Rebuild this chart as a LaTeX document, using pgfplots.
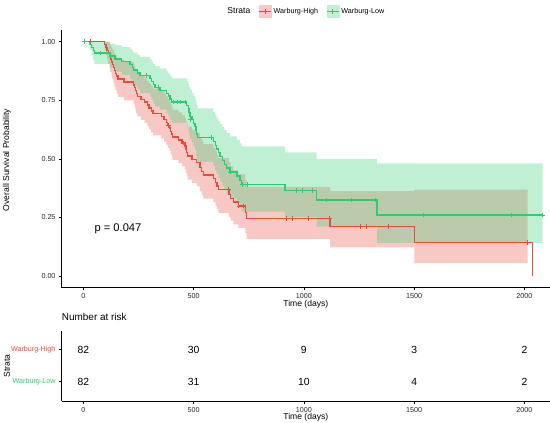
\documentclass[border=0pt]{standalone}
\usepackage{pgfplots}
\pgfplotsset{compat=1.18}
\usepackage{pgfplotstable}
\usepackage{fontspec}
\setmainfont{Liberation Sans}
\definecolor{redc}{HTML}{E74C3C}
\definecolor{greenc}{HTML}{2ECC71}

% Warburg-High: survival line
\pgfplotstableread{
t S
0 1.000
97 0.988
103 0.976
108 0.963
113 0.951
118 0.939
122 0.926
127 0.914
131 0.902
136 0.890
141 0.877
145 0.865
151 0.853
157 0.841
185 0.828
228 0.816
233 0.804
236 0.791
240 0.779
245 0.767
262 0.754
278 0.742
290 0.730
298 0.717
308 0.705
316 0.693
354 0.680
366 0.668
376 0.656
383 0.643
390 0.631
396 0.618
401 0.606
405 0.593
431 0.580
448 0.567
461 0.554
465 0.540
469 0.526
473 0.512
492 0.498
514 0.484
529 0.462
537 0.447
544 0.431
590 0.415
600 0.399
606 0.384
612 0.368
660 0.349
668 0.332
680 0.315
703 0.298
735 0.272
741 0.245
1119 0.210
1501 0.142
2036 0.000
}\redline

% Warburg-High: confidence band as a closed step polygon
% (upper limit forward, then lower limit backward)
\pgfplotstableread{
t y
0 1.000
97 1.000
103 1.000
108 1.000
113 0.999
118 0.992
122 0.984
127 0.977
131 0.969
136 0.960
141 0.951
145 0.942
151 0.933
157 0.924
185 0.914
228 0.904
233 0.895
236 0.884
240 0.874
245 0.864
262 0.853
278 0.843
290 0.833
298 0.822
308 0.811
316 0.800
354 0.789
366 0.778
376 0.767
383 0.756
390 0.745
396 0.733
401 0.722
405 0.710
431 0.698
448 0.687
461 0.675
465 0.663
469 0.650
473 0.638
492 0.625
514 0.612
529 0.592
537 0.578
544 0.563
590 0.548
600 0.533
606 0.518
612 0.503
660 0.485
668 0.468
680 0.451
703 0.434
735 0.408
741 0.380
1119 0.362
1501 0.369
2015 0.369
2015 0.055
1501 0.122
1119 0.158
741 0.182
735 0.205
703 0.220
680 0.236
668 0.251
660 0.269
612 0.285
606 0.299
600 0.314
590 0.330
544 0.346
537 0.361
529 0.383
514 0.397
492 0.411
473 0.426
469 0.440
465 0.455
461 0.468
448 0.482
431 0.496
405 0.509
401 0.521
396 0.535
390 0.547
383 0.561
376 0.573
366 0.586
354 0.600
316 0.613
308 0.626
298 0.640
290 0.653
278 0.666
262 0.681
245 0.694
240 0.708
236 0.723
233 0.736
228 0.750
185 0.765
157 0.780
151 0.794
145 0.809
141 0.825
136 0.840
131 0.855
127 0.871
122 0.889
118 0.905
113 0.923
108 0.943
103 0.965
97 1.000
0 1.000
}\redpoly

\pgfplotstableread{
t S
3 1.000
33 1.000
385 0.643
452 0.567
658 0.368
705 0.298
726 0.298
919 0.245
950 0.245
1020 0.245
1116 0.245
1255 0.210
1285 0.210
1383 0.210
2015 0.142
}\redcens

% Warburg-Low: survival line
\pgfplotstableread{
t S
0 1.000
30 0.988
36 0.976
45 0.963
50 0.951
121 0.939
144 0.927
174 0.915
212 0.903
222 0.891
227 0.879
245 0.867
257 0.855
303 0.842
310 0.830
317 0.817
325 0.805
348 0.793
378 0.780
386 0.768
393 0.755
400 0.743
469 0.728
476 0.713
480 0.698
484 0.682
492 0.667
500 0.652
507 0.637
511 0.621
514 0.606
518 0.590
590 0.574
598 0.558
605 0.542
612 0.526
620 0.510
630 0.493
640 0.477
650 0.461
665 0.444
696 0.426
711 0.408
718 0.390
915 0.364
1058 0.325
1331 0.260
2085 0.260
}\greenline

% Warburg-Low: confidence band polygon
\pgfplotstableread{
t y
0 1.000
30 1.000
36 1.000
45 1.000
50 0.999
121 0.992
144 0.985
174 0.977
212 0.969
222 0.961
227 0.953
245 0.944
257 0.935
303 0.925
310 0.915
317 0.905
325 0.896
348 0.886
378 0.875
386 0.865
393 0.854
400 0.844
469 0.832
476 0.819
480 0.807
484 0.794
492 0.781
500 0.768
507 0.756
511 0.742
514 0.729
518 0.715
590 0.701
598 0.687
605 0.674
612 0.661
620 0.649
630 0.635
640 0.623
650 0.610
665 0.596
696 0.581
711 0.566
718 0.553
915 0.528
1058 0.500
1331 0.481
2083 0.481
2083 0.141
1331 0.211
1058 0.251
915 0.275
718 0.294
711 0.312
696 0.331
665 0.349
650 0.366
640 0.383
630 0.401
620 0.419
612 0.436
605 0.453
598 0.470
590 0.487
518 0.504
514 0.520
511 0.537
507 0.553
500 0.570
492 0.586
484 0.604
480 0.620
476 0.637
469 0.654
400 0.667
393 0.682
386 0.695
378 0.710
348 0.724
325 0.737
317 0.753
310 0.767
303 0.782
257 0.797
245 0.811
227 0.826
222 0.841
212 0.857
174 0.872
144 0.889
121 0.905
50 0.923
45 0.943
36 0.965
30 1.000
0 1.000
}\greenpoly

\pgfplotstableread{
t S
3 1.000
76 0.951
287 0.855
340 0.805
410 0.743
425 0.743
440 0.743
461 0.743
487 0.667
582 0.590
668 0.444
722 0.390
745 0.390
968 0.364
995 0.364
1039 0.364
1104 0.325
1217 0.325
1323 0.325
1542 0.260
1943 0.260
2083 0.260
}\greencens

\pgfplotstableread{
t y n
0 2 82
500 2 30
1000 2 9
1500 2 3
2000 2 2
0 1 82
500 1 31
1000 1 10
1500 1 4
2000 1 2
}\risktab

\pgfplotsset{
  kmbase/.style={
    scale only axis,
    xmin=-98, xmax=2116,
    axis lines=left,
    axis line style={-, line width=0.8bp, black},
    tick align=outside,
    major tick length=2.7bp,
    tick style={black, line width=0.6bp},
    xtick={0,500,1000,1500,2000},
    xticklabels={0,500,1000,1500,2000},
    tick label style={font=\fontsize{7.2}{8}\selectfont, text=black!85},
    label style={font=\fontsize{8.6}{10}\selectfont},
  },
}

\begin{document}
\begin{tikzpicture}
\path[use as bounding box] (0,0) rectangle (550bp,423bp);

\begin{axis}[kmbase,
  at={(61.7bp,135.3bp)}, anchor=south west,
  width=488.3bp, height=257.7bp,
  ymin=-0.05, ymax=1.05,
  ytick={0,0.25,0.5,0.75,1},
  yticklabels={0.00,0.25,0.50,0.75,1.00},
  xlabel={Time (days)},
  xlabel style={at={(axis description cs:0.5,-0.0652)}, anchor=center},
  ylabel={Overall Survival Probability},
  ylabel style={at={(axis description cs:-0.112,0.4955)}, anchor=center},
  legend style={at={(axis description cs:0.5,1.0726)}, anchor=center,
    draw=none, fill=none, legend columns=-1,
    font=\fontsize{7.2}{8}\selectfont,
    /tikz/every even column/.append style={column sep=6bp}},
]
% confidence bands
\addplot[forget plot, const plot, fill=redc, fill opacity=0.3, draw=none] table[x=t,y=y] {\redpoly} -- cycle;
\addplot[forget plot, const plot, fill=greenc, fill opacity=0.3, draw=none] table[x=t,y=y] {\greenpoly} -- cycle;
% survival lines
\addplot[forget plot, const plot, redc, line width=1.4bp, mark=none] table[x=t,y=S] {\redline};
\addplot[forget plot, const plot, greenc, line width=1.4bp, mark=none] table[x=t,y=S] {\greenline};
% censor marks
\addplot[forget plot, only marks, mark=+, mark size=2.3bp, mark options={redc, line width=0.8bp}] table[x=t,y=S] {\redcens};
\addplot[forget plot, only marks, mark=+, mark size=2.3bp, mark options={greenc, line width=0.8bp}] table[x=t,y=S] {\greencens};
% p value
\node[anchor=west, font=\fontsize{11.2}{13}\selectfont] at (axis cs:35,0.2) {p = 0.047};
% legend
\addlegendimage{empty legend}
\addlegendentry{\fontsize{8.6}{10}\selectfont Strata}
\addlegendimage{legend image code/.code={
  \fill[redc!30] (0bp,-6bp) rectangle (12bp,6bp);
  \draw[redc, line width=1.4bp] (0bp,0bp) -- (12bp,0bp);
  \draw[redc, line width=0.8bp] (6bp,-2.5bp) -- (6bp,2.5bp);}}
\addlegendentry{Warburg-High}
\addlegendimage{legend image code/.code={
  \fill[greenc!30] (0bp,-6bp) rectangle (12bp,6bp);
  \draw[greenc, line width=1.4bp] (0bp,0bp) -- (12bp,0bp);
  \draw[greenc, line width=0.8bp] (6bp,-2.5bp) -- (6bp,2.5bp);}}
\addlegendentry{Warburg-Low}
\end{axis}

\begin{axis}[kmbase,
  at={(61.7bp,22bp)}, anchor=south west,
  width=488.3bp, height=70.4bp,
  ymin=0.4, ymax=2.6,
  ytick={1,2},
  yticklabels={\textcolor{greenc}{Warburg-Low},\textcolor{redc}{Warburg-High}},
  xlabel={Time (days)},
  xlabel style={at={(axis description cs:0.5,-0.234)}, anchor=center},
  ylabel={Strata},
  ylabel style={at={(axis description cs:-0.112,0.5)}, anchor=center},
  title={Number at risk},
  title style={at={(axis description cs:0,1)}, anchor=west, yshift=8bp, inner sep=0pt, font=\fontsize{10}{12}\selectfont},
]
\addplot[forget plot, draw=none, mark=none, nodes near coords, point meta=explicit symbolic,
  nodes near coords align={center},
  every node near coord/.append style={font=\fontsize{10.4}{12}\selectfont, text=black}]
  table[x=t,y=y,meta=n] {\risktab};
\end{axis}
\end{tikzpicture}
\end{document}
